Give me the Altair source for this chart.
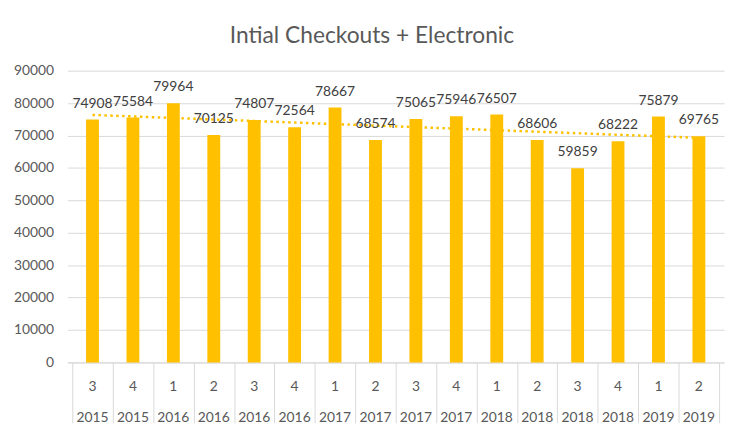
import altair as alt
import pandas as pd

quarters = [3, 4, 1, 2, 3, 4, 1, 2, 3, 4, 1, 2, 3, 4, 1, 2]
years = [2015, 2015, 2016, 2016, 2016, 2016, 2017, 2017, 2017, 2017, 2018, 2018, 2018, 2018, 2019, 2019]
values = [74908, 75584, 79964, 70125, 74807, 72564, 78667, 68574,
          75065, 75946, 76507, 68606, 59859, 68222, 75879, 69765]
y_ticks = [0, 10000, 20000, 30000, 40000, 50000, 60000, 70000, 80000, 90000]

df = pd.DataFrame({
    "idx": list(range(1, len(values) + 1)),
    "quarter": [str(q) for q in quarters],
    "year": [str(y) for y in years],
    "value": values,
})

FONT = "Lato"
BAR = "#FFC000"
GRID = "#D9D9D9"
W, H = 664, 295

base = alt.Chart(df).transform_calculate(xpos="datum.idx - 0.5")

xscale = alt.Scale(domain=[0, len(values)], nice=False, zero=False)
xaxis = alt.Axis(values=list(range(len(values) + 1)), labels=False, grid=False,
                 title=None, tickSize=61, tickColor=GRID, domainColor=GRID,
                 tickWidth=1, domainWidth=1)
xenc = alt.X("xpos:Q", scale=xscale, axis=xaxis)
yscale = alt.Scale(domain=[0, 90000], nice=False)
yaxis = alt.Axis(values=y_ticks, title=None, ticks=False, domain=False,
                 format="d", labelOverlap=False, labelFlush=False,
                 gridColor=GRID, labelFont=FONT, labelFontSize=14,
                 labelColor="#595959", labelPadding=14)
yenc = alt.Y("value:Q", scale=yscale, axis=yaxis)

bars = base.mark_bar(size=13, color=BAR).encode(x=xenc, y=yenc)

labels = base.mark_text(font=FONT, fontSize=14, color="#404040", baseline="middle", dy=-16).encode(
    x=xenc, y=yenc, text="value:Q")

trend = base.transform_regression("idx", "value", method="linear").transform_calculate(
    xpos="datum.idx - 0.5").mark_line(color=BAR, strokeWidth=2.5, strokeDash=[2.5, 3.5]).encode(
    x=xenc, y=yenc)

qlab = base.mark_text(font=FONT, fontSize=14, color="#595959", baseline="middle").encode(
    x=xenc, y=alt.value(H + 25), text="quarter:N")
ylab = base.mark_text(font=FONT, fontSize=14, color="#595959", baseline="middle").encode(
    x=xenc, y=alt.value(H + 56), text="year:N")

chart = alt.layer(bars, trend, labels, qlab, ylab).properties(
    width=W, height=H,
    autosize=alt.AutoSizeParams(type="none"),
    padding={"left": 60, "top": 61, "right": 4, "bottom": 67},
    title=alt.TitleParams("Intial Checkouts + Electronic", font=FONT, fontSize=23,
                          fontWeight="normal", color="#595959", anchor="middle",
                          dx=-24, offset=16),
).configure_view(stroke=None)

chart.save("out.html", embed_options={"renderer": "svg", "actions": False})
